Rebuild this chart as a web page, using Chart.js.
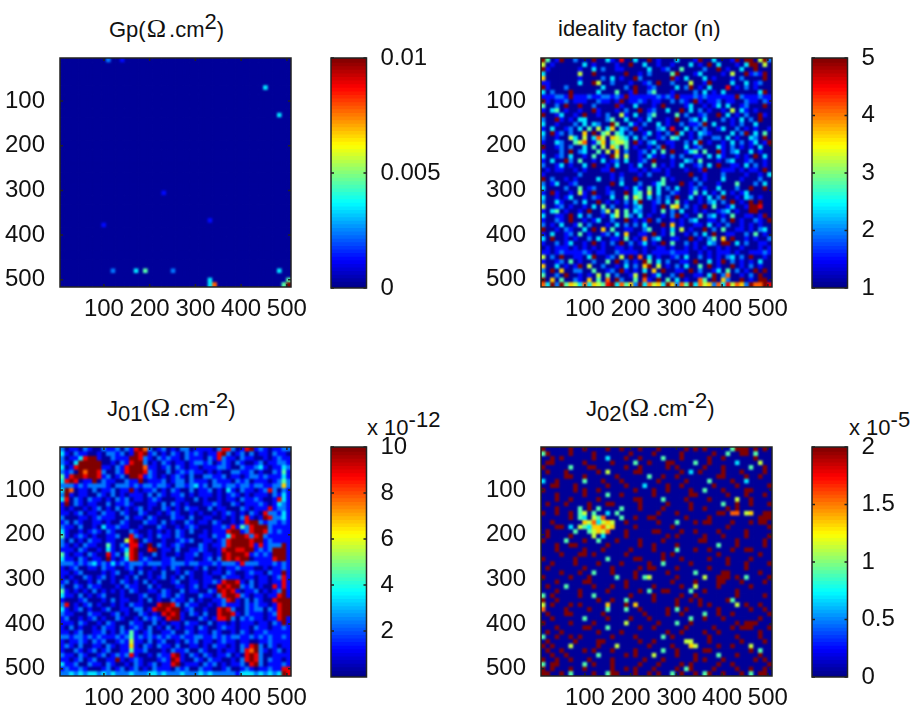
<!DOCTYPE html>
<html>
<head>
<meta charset="utf-8">
<title>Maps</title>
<script src="https://cdn.jsdelivr.net/npm/chart.js@4"></script>
<style>
  body { margin: 0; background: #fff; font-family: "Liberation Sans", Arial, sans-serif; color: #111; }
  canvas { position: absolute; }
  .txt { position: absolute; white-space: nowrap; font-size: 22px; line-height: 24px; }
  .txt sup, .txt sub { font-size: 22px; line-height: 0; }
  .om { font-family: "Liberation Serif", serif; font-size: 26px; margin: 0 3px 0 1px; }
</style>
</head>
<body>
<div class="txt" style="left:109px;top:17px">Gp(<span class="om">Ω</span>.cm<sup>2</sup>)</div>
<div class="txt" style="left:558px;top:17px">ideality factor (n)</div>
<div class="txt" style="left:107px;top:396px">J<sub>01</sub>(<span class="om">Ω</span>.cm<sup>-2</sup>)</div>
<div class="txt" style="left:586px;top:396px">J<sub>02</sub>(<span class="om">Ω</span>.cm<sup>-2</sup>)</div>
<div class="txt" style="left:367px;top:416px">x 10<sup>-12</sup></div>
<div class="txt" style="left:849px;top:416px">x 10<sup>-5</sup></div>

<script>
// axis ticks
const xTicks = [100, 200, 300, 400, 500];
const yTicks = [100, 200, 300, 400, 500];
const xRange = [4, 509];
const yRange = [4, 516];

// colorbar ticks
const gpTicks = [0, 0.005, 0.01];
const nTicks = [1, 2, 3, 4, 5];
const j01Ticks = [2, 4, 6, 8, 10];
const j02Ticks = [0, 0.5, 1, 1.5, 2];

// colour ranges
const gpRange = [0, 0.01];
const nRange = [1, 5];
const j01Range = [0, 10];
const j02Range = [0, 2];

// map values, one digit per cell, 0 = bottom of the colour range, 9 = top
const gpRows = [
  '00000000002001000000000000000000000000000000000000',
  '00000000000000000000000000000000000000000000000000',
  '00000000000000000000000000000000000000000000000000',
  '00000000000000000000000000000000000000000000000000',
  '00000000000000000000000000000000000000000000000000',
  '00000000000000000000000000000000000000000000000000',
  '00000000000000000000000000000000000000000000300000',
  '00000000000000000000000000000000000000000000000000',
  '00000000000000000000000000000000000000000000000000',
  '00000000000000000000000000000000000000000000000000',
  '00000000000000000000000000000000000000000000000000',
  '00000000000000000000000000000000000000000000000000',
  '00000000000000000000000000000000000000000000000300',
  '00000000000000000000000000000000000000000000000000',
  '00000000000000000000000000000000000000000000000000',
  '00000000000000000000000000000000000000000000000000',
  '00000000000000000000000000000000000000000000000000',
  '00000000000000000000000000000000000000000000000000',
  '00000000000000000000000000000000000000000000000000',
  '00000000000000000000000000000000000000000000000000',
  '00000000000000000000000000000000000000000000000000',
  '00000000000000000000000000000000000000000000000000',
  '00000000000000000000000000000000000000000000000000',
  '00000000000000000000000000000000000000000000000000',
  '00000000000000000000000000000000000000000000000000',
  '00000000000000000000000000000000000000000000000000',
  '00000000000000000000000000000000000000000000000000',
  '00000000000000000000000000000000000000000000000000',
  '00000000000000000000000000000000000000000000000000',
  '00000000000000000000001000000000000000000000000000',
  '00000000000000000000000000000000000000000000000000',
  '00000000000000000000000000000000000000000000000000',
  '00000000000000000000000000000000000000000000000000',
  '00000000000000000000000000000000000000000000000000',
  '00000000000000000000000000000000000000000000000000',
  '00000000000000000000000000000000100000000000000000',
  '00000000010000000000000000000000000000000000000000',
  '00000000000000000000000000000000000000000000000000',
  '00000000000000000000000000000000000000000000000000',
  '00000000000000000000000000000000000000000000000000',
  '00000000000000000000000000000000000000000000000000',
  '00000000000000000000000000000000000000000000000000',
  '00000000000000000000000000000000000000000000000000',
  '00000000000000000000000000000000000000000000000000',
  '00000000000000000000000000000000000000000000000000',
  '00000000000000000000000000000000000000000000000000',
  '00000000000200003040000020000000000000000000000300',
  '00000000000000000000000000000000000000000000000000',
  '00000000000000000000000000000000300000000000000004',
  '00000000000000000000000000000000370000000000000049',
];

const nRows = [
  '94019002000900310800300901000300019003000190990592',
  '50100000030100001009003001001000301090300010399050',
  '91000000100302001100000300120040000200901003009000',
  '30000000500900000090010200004900013000010500912190',
  '60000000100002030100920000009103000301000102000090',
  '11000000300950020001001209002000500190000300301200',
  '91000200000003000020900120000302901030008010201000',
  '30200090000030004001900240001000020301030000000390',
  '11122191112112212191111112121911121211111192111211',
  '91011201110021101901121011002021091011201100211021',
  '40020900900200009100300010900001300101303001200090',
  '10340100100910001020090120030090302010010503101000',
  '90013001090010200510300240000402001200903010200910',
  '20091010330000240030010300010900230300020103020900',
  '30010002030320094003102003010020112903000102003000',
  '10300120304050360320910002308003020200130020101001',
  '30912020060904504302001301020930103210000302903040',
  '20010053050375065430302001204300102002203010032090',
  '10032004570146045540910230011002039010010302013019',
  '90012020030405064040100102901003012000310201010300',
  '10002090230040506020012030409001340400910230030100',
  '30012030010401095050010310102020011030310010109030',
  '10300920400103012030012090001003204000102300120010',
  '20013010030900103001030040101030012030900110302010',
  '01011001010001190001101011010001001900011101011090',
  '10000000200000010100010200010000900100020000100103',
  '90200101000030010200900000401000020100030001000200',
  '20130012000000090300020013400090102000100040002030',
  '30000200401200100010310403020300120100300020090090',
  '10910010510900120090340503002100140301030101300000',
  '30010130010210030040540302020900301030290010320100',
  '20031002030090101020390012030401001023020901090900',
  '50012010010304020010230010905602010904001300199800',
  '10340100109002505040320010402030010100123010099000',
  '30011090302001035042030100102901004023010400110190',
  '10021090010130020090101902001010230011020901002109',
  '20103001402000103020203000906010011030102001010100',
  '90010210030906040011002400103050100902040011010230',
  '10300120401001203060011090104001020309001100204010',
  '30900101002030011040107023001100901024060900101002',
  '10020130010901020902013010904002010032099030200110',
  '01011101010101001101001001101001010100101001000101',
  '11012111121011002111101011112111001010111010011121',
  '50209001103900120509070301001203002010102302090010',
  '10012040100200409020109403020011090030190201010300',
  '60030101905002001030206905010203004090100901020100',
  '20906002200400120910103060900110902001304020109090',
  '40020900101050402001509013002090011039027001020900',
  '90604002106040709200407109040301007409062009010990',
  '73929465373654893746293756396274937562738576297798',
];

const j01Rows = [
  '20110210021120218972012010220111102882018912101122',
  '31021100102212019891201021021210118920120201102110',
  '20113899100211199821021211021110218211021100101211',
  '21039999900102189920102101101221201210210012011221',
  '30189999911021899971101202101101112210021123101132',
  '21209799820021899982100201212110101002211201002141',
  '41899899812012099812101012102002211201101221211131',
  '38980119021100211901112012202111021110212011101242',
  '22212122221022212122122102212312022122122122112262',
  '39701102011201191011201021002011201031021101282021',
  '29101100210201011102021011201011101012101011102131',
  '38021021101021201101210001100201001011021121001831',
  '19021011002011210001102021010001121002101112101321',
  '10100101201020101201002101021100201100021011181221',
  '11012011021102100210010121001010010121010210822131',
  '20001101211100201102100021102001100101028101982231',
  '12021001101002100021102010021011021001018992122121',
  '21102001031121100100021001012100011218142899921111',
  '31001012102100021001010102102001011189912899821211',
  '41012101001120082101021102100011021138998289211111',
  '20201021101100589021001001212001101289999899121111',
  '21010211004102188109021012100021011289999818122291',
  '11102100103101389008901102001121001899889912129991',
  '41011021008120489100201001011201101989998121219991',
  '31102101109101389121001120011001202989899011118991',
  '22212123121312122212221122212211121222182221112121',
  '10120011021100120100101021000102001011211100101121',
  '11012000010120010201002001021001011021001211021191',
  '10100210120100102001012010201001100211101101101281',
  '12010010200102101020100012001101121899810201101181',
  '20021021100010211002010001101201008989921201008181',
  '41010102010101021001102100201100219898101120101291',
  '31102010120001000120012102100021102899821011011891',
  '10001200010201100102010021102010011289102021008999',
  '28010120100101021100089982021100101211102121101899',
  '31012010012001102201899899012001008982002122021899',
  '21100021100120100210108989102102008998102111012899',
  '12001012010021001021210899100021018892021211011891',
  '11102100102100021100201011021100201101011101102191',
  '10201001021102012102010201011021001211011021101121',
  '11012001120102141012001120021011021001021011211111',
  '22122121211121241212121211211221121212211212121121',
  '10112102120012151102012001021201101211011001121111',
  '12102001102101161021021102001101021101021892021011',
  '10021012012001141120001021120021001011028792101201',
  '21102100120121281001021189102102101120108982001111',
  '11012012001191012100012198100210211001028982021101',
  '31120021102100102101201189011102120101120892011121',
  '12112100012012012010211102120021100120012101121188',
  '22323233232322232223323222322232322222133323232398',
];

const j02Rows = [
  '90000090090000900900090009000009090900000499909090',
  '49000090000900000009000090000090000009004009904000',
  '00909000000900300090090000400090000090090000009000',
  '09900000090000090000400900099000040090000030000500',
  '90000040009900000090090000090900000900090000040090',
  '09000900000090500000990000000090309000090009000090',
  '00000990090000009000000400900900000000990000900900',
  '30090000040009000900000009000009000040000900300000',
  '00990009000000900090003000090090000009000090000009',
  '90000009090090000000900090090000900400090000990000',
  '00090000090000400900000090000000990000009000900090',
  '00090090000090000000990000400009000090000050090000',
  '09000900009000990000090000090000900000040090090009',
  '00090000409040000400090000900000900900009090000000',
  '90090090450400304000000009000900000000990770560099',
  '00000090430547000400900990000009000090000000000999',
  '00900000065735650090000009000400090990000900090990',
  '00099030543667560000900000009000000000009000000009',
  '09000004004565700090000099000090090000900000900000',
  '09000090000503000090000000090900000900090000900009',
  '90000400090040009000090000900000009900000090000090',
  '00090099000000900000090090000900000000400090000090',
  '00090000090009000009000090000400090090000900990000',
  '00009000990900000090000000909000000000900000000900',
  '90000009000000400000990000900090000090009000090000',
  '00900009000090000900000900400000900000009000900009',
  '09000000090000090000090990000900000090000000900000',
  '00009000900400090000900000090000040000099000000900',
  '90000090009000004000904500000900000500999090400009',
  '00090000099000000090000000009000090000990009000090',
  '09000400000900090090000090000090050000900000090000',
  '00090000900000900000090400990000400900000090000000',
  '40900000900400000009000090000090090000000090000090',
  '90090000000090090040000090000900909000009400000000',
  '50900090900000600090600000000900009090000050900900',
  '70000900009000400040090000090409000000900000090090',
  '09000990000009000000009000090090000400900900000009',
  '00900000040000900009000900000000400900090000000900',
  '90000090000900000050000009000400900000000090999000',
  '00090000099000400000090090000009000009000909990009',
  '09009000000090000900000000090090000900900000000900',
  '40090090900000090000900000409000000090000090000900',
  '09000009000099000000090090000005500090000009000090',
  '90900050000090005000000900009000650000900900050000',
  '09009000090900090000900000400900000990000000090400',
  '00900900000040000090900050000900090000400090000900',
  '90090090009000090000009000900000090900090000009090',
  '40990000040900090000090009000090900000900900000009',
  '90900090090000090090900090000904900009000090090090',
  '99009040000900499000900909004090090490090009040990',
];

// jet colormap, t from 0 to 1
function jet(t) {
  const c = v => Math.round(255 * Math.max(0, Math.min(1, v)));
  return `rgb(${c(1.5 - Math.abs(4 * t - 3))},${c(1.5 - Math.abs(4 * t - 2))},${c(1.5 - Math.abs(4 * t - 1))})`;
}

const fontTick = { family: '"Liberation Sans", Arial, sans-serif', size: 24 };
const inkColor = '#111';

// MATLAB style frame with ticks pointing inwards
const frameTicks = {
  id: 'frameTicks',
  afterDraw(chart) {
    const { ctx, chartArea: a, scales } = chart;
    ctx.save();
    ctx.strokeStyle = '#222';
    ctx.lineWidth = 1.5;
    ctx.strokeRect(a.left, a.top, a.right - a.left, a.bottom - a.top);
    ctx.beginPath();
    if (scales.x.options.display) {
      scales.x.ticks.forEach(t => {
        const p = scales.x.getPixelForValue(t.value);
        ctx.moveTo(p, a.top); ctx.lineTo(p, a.top + 3);
        ctx.moveTo(p, a.bottom); ctx.lineTo(p, a.bottom - 3);
      });
    }
    scales.y.ticks.forEach(t => {
      const p = scales.y.getPixelForValue(t.value);
      ctx.moveTo(a.left, p); ctx.lineTo(a.left + 3, p);
      ctx.moveTo(a.right, p); ctx.lineTo(a.right - 3, p);
    });
    ctx.stroke();
    ctx.restore();
  }
};

// the picture is a resampled image, so the cells are soft
const soften = {
  id: 'soften',
  afterDatasetsDraw(chart) {
    const { ctx, chartArea: a, canvas } = chart;
    ctx.save();
    ctx.beginPath();
    ctx.rect(a.left, a.top, a.right - a.left, a.bottom - a.top);
    ctx.clip();
    ctx.filter = 'blur(1px)';
    ctx.drawImage(canvas, 0, 0);
    ctx.restore();
  }
};

function addCanvas(left, top, w, h) {
  const c = document.createElement('canvas');
  c.width = w; c.height = h;
  c.style.left = left + 'px';
  c.style.top = top + 'px';
  document.body.appendChild(c);
  return c;
}

function drawMap(rows, left, top) {
  const stepX = (xRange[1] - xRange[0]) / 50;
  const stepY = (yRange[1] - yRange[0]) / 50;
  const pts = [];
  const cols = [];
  rows.forEach((row, r) => {
    row.split('').forEach((d, i) => {
      pts.push({ x: xRange[0] + (i + 0.5) * stepX, y: yRange[0] + (r + 0.5) * stepY });
      cols.push(jet(0.025 + 0.975 * Number(d) / 9));
    });
  });
  new Chart(addCanvas(left, top, 320, 340), {
    type: 'scatter',
    data: { datasets: [{ data: pts, backgroundColor: cols, borderWidth: 0, pointStyle: 'rect', pointRadius: 3.5, pointHoverRadius: 3.5 }] },
    options: {
      responsive: false,
      animation: false,
      events: [],
      layout: { padding: { top: 58, right: 29, left: 0, bottom: 0 } },
      plugins: { legend: { display: false }, tooltip: { enabled: false } },
      scales: {
        x: {
          type: 'linear', min: xRange[0], max: xRange[1],
          grid: { display: false }, border: { display: false },
          afterBuildTicks: s => { s.ticks = xTicks.map(v => ({ value: v })); },
          afterFit: s => { s.height = 53; },
          ticks: { font: fontTick, color: inkColor, maxRotation: 0, autoSkip: false, padding: 0 }
        },
        y: {
          type: 'linear', reverse: true, min: yRange[0], max: yRange[1],
          grid: { display: false }, border: { display: false },
          afterBuildTicks: s => { s.ticks = yTicks.map(v => ({ value: v })); },
          afterFit: s => { s.width = 60; },
          ticks: { font: fontTick, color: inkColor, autoSkip: false, padding: 7 }
        }
      }
    },
    plugins: [soften, frameTicks]
  });
}

function drawColorbar(range, ticks, left, top) {
  const levels = Array.from({ length: 64 }, (_, i) => range[0] + (i + 0.5) / 64 * (range[1] - range[0]));
  new Chart(addCanvas(left, top, 125, 340), {
    type: 'bar',
    data: {
      datasets: [{
        data: levels.map(v => ({ x: 1, y: v })),
        backgroundColor: levels.map(v => jet((v - range[0]) / (range[1] - range[0]))),
        barThickness: 5,
        borderWidth: 0
      }]
    },
    options: {
      indexAxis: 'y',
      responsive: false,
      animation: false,
      events: [],
      layout: { padding: { top: 58, left: 11, right: 0, bottom: 52 } },
      plugins: { legend: { display: false }, tooltip: { enabled: false } },
      scales: {
        x: { type: 'linear', min: 0, max: 1, display: false },
        y: {
          type: 'linear', position: 'right', min: range[0], max: range[1], offset: false,
          grid: { display: false }, border: { display: false },
          afterBuildTicks: s => { s.ticks = ticks.map(v => ({ value: v })); },
          afterFit: s => { s.width = 78.5; },
          ticks: { font: fontTick, color: inkColor, autoSkip: false, padding: 6, callback: v => String(v) }
        }
      }
    },
    plugins: [frameTicks]
  });
}

drawMap(gpRows, 0, 0);
drawMap(nRows, 481, 0);
drawMap(j01Rows, 0, 389);
drawMap(j02Rows, 481, 389);
drawColorbar(gpRange, gpTicks, 320, 0);
drawColorbar(nRange, nTicks, 801, 0);
drawColorbar(j01Range, j01Ticks, 320, 389);
drawColorbar(j02Range, j02Ticks, 801, 389);
</script>
</body>
</html>
